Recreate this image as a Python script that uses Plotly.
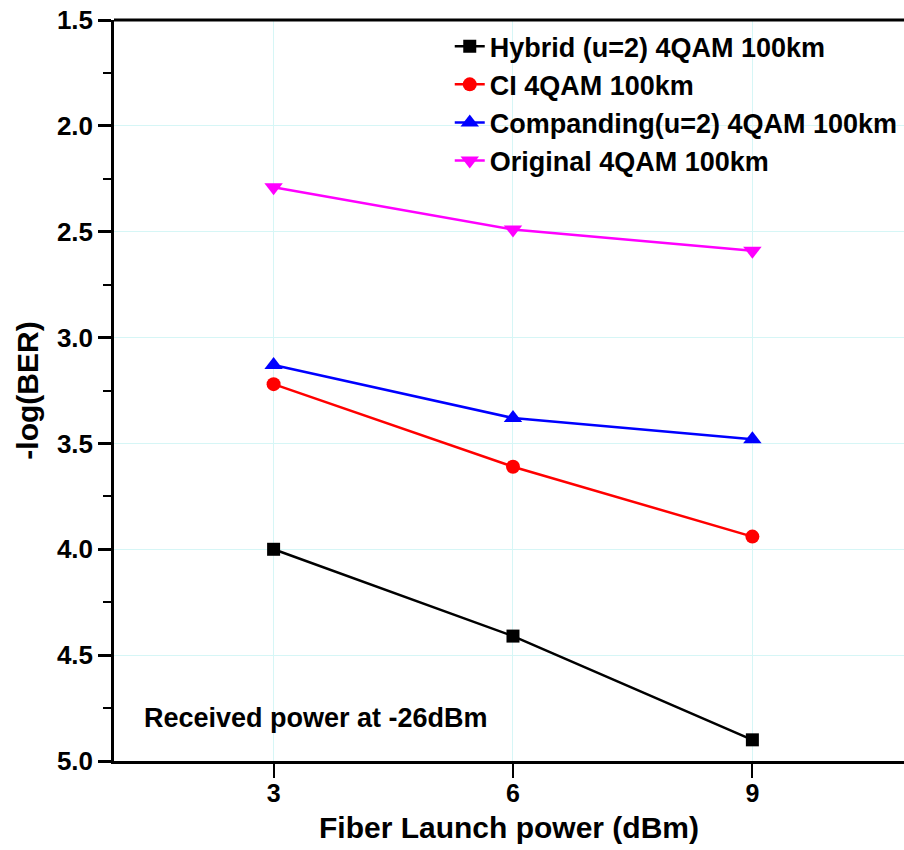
import plotly.graph_objects as go

# Fiber launch power (dBm)
launch_power = [3, 6, 9]

# -log(BER) per scheme
hybrid = [4.00, 4.41, 4.90]
ci = [3.22, 3.61, 3.94]
companding = [3.13, 3.38, 3.48]
original = [2.29, 2.49, 2.59]

series = [
    ("Hybrid (u=2) 4QAM 100km", hybrid, "black", "square", 13),
    ("CI 4QAM 100km", ci, "red", "circle", 14),
    ("Companding(u=2) 4QAM 100km", companding, "blue", "triangle-up", 16),
    ("Original 4QAM 100km", original, "magenta", "triangle-down", 16),
]

FONT = "Liberation Sans, Arial, sans-serif"

fig = go.Figure()
for i, (name, vals, color, symbol, size) in enumerate(series):
    fig.add_trace(go.Scatter(
        x=launch_power, y=vals, name=name, mode="lines+markers",
        legendgroup=f"g{i}",
        line=dict(color=color, width=2.5),
        marker=dict(color=color, symbol=symbol, size=size, line=dict(width=0)),
    ))

fig.add_annotation(
    x=0.036, y=0.058, xref="paper", yref="paper", xanchor="left", yanchor="middle",
    text="<b>Received power at -26dBm</b>", showarrow=False,
    font=dict(family=FONT, size=27, color="black"),
)

fig.update_layout(
    width=904, height=850,
    margin=dict(l=114, r=0, t=20, b=89),
    paper_bgcolor="white", plot_bgcolor="white",
    font=dict(family=FONT, color="black"),
    legend=dict(
        x=0.425, y=0.997, xanchor="left", yanchor="top",
        font=dict(family=FONT, size=27, color="black", weight="bold"),
        bgcolor="rgba(0,0,0,0)", tracegroupgap=0,
    ),
    showlegend=True,
)

fig.update_xaxes(
    range=[1, 10.9], tickvals=launch_power, ticktext=["3", "6", "9"],
    ticks="outside", ticklen=14, tickwidth=2, tickcolor="black",
    showline=True, linecolor="black", linewidth=2.5, mirror=False,
    showgrid=True, gridcolor="#d6f6f6", gridwidth=1, zeroline=False,
    tickfont=dict(family=FONT, size=25, color="black", weight="bold"),
    ticklabelstandoff=-6,
    title=dict(text="<b>Fiber Launch power (dBm)</b>", font=dict(family=FONT, size=30, color="black"), standoff=12),
)
fig.update_yaxes(
    range=[5.0, 1.5], tickvals=[1.5, 2.0, 2.5, 3.0, 3.5, 4.0, 4.5, 5.0],
    ticktext=["1.5", "2.0", "2.5", "3.0", "3.5", "4.0", "4.5", "5.0"],
    ticks="outside", ticklen=13, tickwidth=2.5, tickcolor="black",
    minor=dict(tickvals=[1.75, 2.25, 2.75, 3.25, 3.75, 4.25, 4.75], ticks="outside", ticklen=8, tickwidth=2, tickcolor="black", showgrid=False),
    showline=True, linecolor="black", linewidth=2.5,
    showgrid=True, gridcolor="#d6f6f6", gridwidth=1, zeroline=False,
    tickfont=dict(family=FONT, size=26, color="black", weight="bold"),
    title=dict(text="<b>-log(BER)</b>", font=dict(family=FONT, size=30, color="black"), standoff=10),
)

# top frame line
fig.add_shape(type="line", xref="paper", yref="paper", x0=0, x1=1, y0=1, y1=1,
              line=dict(color="black", width=3))

fig.write_html("out.html")
